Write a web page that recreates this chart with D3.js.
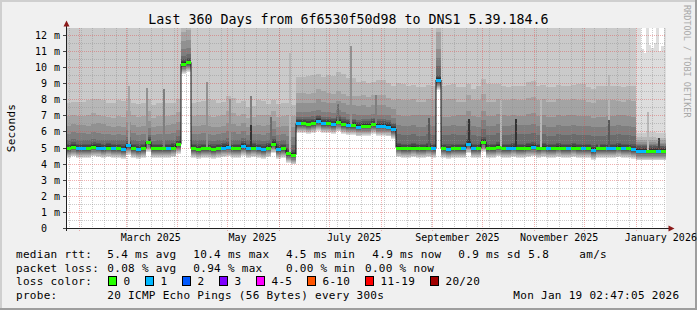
<!DOCTYPE html>
<html>
<head>
<meta charset="utf-8">
<title>Smokeping 360 days</title>
<script src="https://cdn.jsdelivr.net/npm/d3@7"></script>
<style>
body { margin: 0; background: #f0f0f0; }
text { font-family: "DejaVu Sans Mono", monospace; fill: #000; }
</style>
</head>
<body>
<script>
var DAY = 864e5;
var endTime = new Date(2026, 0, 19, 2, 47, 5);
var startTime = new Date(+endTime - 360 * DAY);

// median rtt (ms), one value per 3 days
var median = [
  4.95, 5.05, 4.95, 4.95, 4.95, 5.05, 5.0, 4.95, 5.0, 4.95,
  4.95, 4.9, 5.15, 4.95, 4.9, 4.95, 5.35, 4.95, 4.95, 4.95,
  4.95, 5.0, 5.2, 10.2, 10.3,
  4.95, 4.9, 4.95, 4.95, 4.9, 4.95, 5.0, 5.05, 4.95, 4.95,
  5.1, 4.95, 5.0, 4.95, 4.9, 5.0, 5.25, 4.9, 4.95, 4.65, 4.55,
  6.5, 6.5, 6.45, 6.5, 6.65, 6.5, 6.5, 6.45, 6.6, 6.45,
  6.4, 6.4, 6.3, 6.35, 6.35, 6.45, 6.35, 6.35, 6.3, 6.15,
  5.0, 4.95, 4.95, 5.0, 4.95, 4.95, 5.0, 4.95, 9.2, 4.95,
  4.9, 4.95, 4.95, 4.95, 5.25, 4.95, 4.95, 5.35, 4.95, 4.95,
  5.05, 4.95, 4.95, 5.0, 4.95, 4.95, 5.0, 5.05, 4.95, 5.0,
  4.95, 4.95, 5.0, 4.95, 4.95, 5.0, 4.95, 4.95, 4.95, 4.85,
  4.95, 4.95, 4.95, 4.95, 5.0, 4.95, 4.95, 4.9,
  4.8, 4.8, 4.8, 4.8, 4.8, 4.8
];
// lost pings out of 20, same bins
var loss = [
  0,0,1,1,0,0,1,1,0,1, 0,1,1,0,1,0,0,0,0,0, 1,0,0, 0,0,
  0,0,0,0,0,0,1,1,0,0, 1,1,0,1,1,0,0,1,0,0,0,
  1,0,0,0,1,1,0,1,0,0, 1,0,1,0,0,0,1,1,1,1,
  0,0,0,0,0,0,0,1,1,0, 1,0,0,1,1,1,0,0,0,0, 0,0,1,1,0,0,0,1,0,0,
  1,0,0,0,1,0,0,1,0,1, 0,0,1,1,0,1,0,1,
  1,1,0,0,1,0
];

// smoke: how far each ping band reaches above the median (ms), one value per 6 days
var up2 = [
  9,9,9,9,9,9,9,9,9,9, 9,9,9,9,9,9,9,9,9,9,
  9,9,9,9,9,9,9,9,9,9, 9,9,9,9,9,9,9,9,9,9,
  9,9,9,9,9,9,9,9,9,9, 9,9,9,9,9,9,9, 1.1,1.15,1.1
];
var up3 = [
  2.8,2.9,3.0,3.0,2.8,3.0,2.85,2.8,2.7,2.85,2.8,2.8,
  2.8,2.95,3.05,2.85,3.15,2.8,2.6,3.0,2.7,2.8, 3.1,
  2.9,3.0,2.9,3.0,3.1,2.9,2.8,2.65,2.85,2.7,
  4.0,3.9,3.8,3.9,3.9,4.0,3.8,3.7,3.9,4.0,3.9,3.8,
  3.9,4.1,3.9,3.8,3.9,3.9,4.0,3.8,3.9,3.9,3.8,3.9,
  0.85,0.85,0.8
];
var up4 = [
  2.0,2.0,2.1,2.0,1.9,2.0,2.1,2.0,1.9,2.0,2.0,2.0,
  2.0,2.1,2.0,2.0,2.2,2.0,1.9,2.1,2.0,2.0, 2.4,
  1.9,1.9,2.0,1.9,1.9,1.8,1.9,1.8,1.9,1.8,
  3.0,3.0,2.9,3.0,3.0,3.1,2.9,3.0,3.0,2.9,3.0,3.0,
  3.0,3.1,3.0,2.9,3.0,3.0,3.0,2.9,3.0,3.0,2.9,3.0,
  0.7,0.7,0.65
];
var up5 = [
  1.4,1.45,1.4,1.5,1.35,1.4,1.45,1.4,1.3,1.4,1.45,1.4,
  1.4,1.45,1.4,1.35,1.5,1.4,1.35,1.45,1.4,1.4, 1.7,
  1.3,1.3,1.35,1.3,1.3,1.25,1.3,1.2,1.3,1.25,
  2.0,2.0,2.05,2.0,1.95,2.0,2.1,2.0,1.95,2.0,2.05,2.0,
  2.0,2.1,2.0,1.95,2.0,2.05,2.0,2.0,1.95,2.0,2.05,2.0,
  0.55,0.55,0.5
];
var up6 = [
  0.9,0.95,0.9,0.9,0.85,0.9,0.95,0.9,0.85,0.9,0.9,0.9,
  0.9,0.95,0.9,0.9,1.0,0.9,0.85,0.9,0.9,0.9, 1.1,
  0.7,0.75,0.7,0.7,0.75,0.7,0.7,0.65,0.7,0.7,
  1.4,1.4,1.35,1.4,1.4,1.45,1.4,1.4,1.35,1.4,1.4,1.4,
  1.45,1.4,1.4,1.35,1.4,1.4,1.4,1.4,1.35,1.4,1.4,1.4,
  0.45,0.45,0.4
];
var up7 = [
  0.5,0.55,0.5,0.5,0.5,0.55,0.5,0.5,0.45,0.5,0.5,0.5,
  0.5,0.55,0.5,0.5,0.55,0.5,0.5,0.5,0.5,0.5, 0.6,
  0.4,0.45,0.4,0.4,0.45,0.4,0.4,0.4,0.4,0.4,
  0.85,0.85,0.8,0.85,0.85,0.9,0.85,0.85,0.8,0.85,0.85,0.85,
  0.9,0.85,0.85,0.8,0.85,0.85,0.85,0.85,0.8,0.85,0.85,0.85,
  0.35,0.35,0.3
];
var innerUp = [0.3, 0.2, 0.1];                                    // bands 8..10
var lowOff = [0.6, 0.55, 0.5, 0.42, 0.36, 0.3, 0.22, 0.16, 0.1, 0.05]; // bands 1..10 below median
// outermost band top in the last 18 days (ms), 1.5 day steps
var tailTop = [12.5, 12.5, 11.1, 10.9, 12.5, 11.4, 11.2, 11.5, 12.5, 11.0, 11.3, 12.5];

// single outliers: [time, top (ms), band]
var spikes = [
  ["2025-03-02T12:00", 8.8, 4], ["2025-03-13T00:00", 8.7, 5], ["2025-03-23T12:00", 8.65, 6],
  ["2025-04-18T00:00", 9.1, 5], ["2025-05-02T00:00", 8.0, 5], ["2025-05-14T12:00", 8.2, 6],
  ["2025-05-14T12:00", 6.4, 10], ["2025-05-26T12:00", 6.9, 7], ["2025-06-07T00:00", 10.9, 3],
  ["2025-07-06T00:00", 7.7, 7], ["2025-07-13T12:00", 11.3, 5], ["2025-07-28T12:00", 8.3, 6],
  ["2025-08-29T12:00", 6.85, 8], ["2025-09-22T12:00", 6.8, 10], ["2025-10-11T12:00", 8.6, 3],
  ["2025-10-20T12:00", 6.8, 10], ["2025-11-04T12:00", 8.9, 3], ["2025-12-09T12:00", 5.6, 7],
  ["2025-12-15T12:00", 9.5, 3], ["2025-12-15T12:00", 6.7, 8], ["2026-01-08T00:00", 7.2, 3],
  ["2026-01-14T12:00", 5.6, 9]
];

var smokeColors = ["#dddddd","#cacaca","#b7b7b7","#a4a4a4","#919191","#7e7e7e","#6b6b6b","#585858","#454545","#323232"];
var lossLabels = ["0", "1", "2", "3", "4-5", "6-10", "11-19", "20/20"];
var lossColors = ["#26ff00", "#00b8ff", "#0059ff", "#7e00ff", "#ff00ff", "#ff5500", "#ff0000", "#a10000"];
var monthLabels = ["March 2025", "May 2025", "July 2025", "September 2025", "November 2025", "January 2026"];
var legendRtt = ["median rtt:", "5.4 ms avg", "10.4 ms max", "4.5 ms min", "4.9 ms now", "0.9 ms sd", "5.8", "am/s"];
var legendLoss = ["packet loss:", "0.08 % avg", "0.94 % max", "0.00 % min", "0.00 % now"];
var probeText = ["probe:", "20 ICMP Echo Pings (56 Bytes) every 300s", "Mon Jan 19 02:47:05 2026"];

var BIN = 3 * DAY;
function binTime(i) { return new Date(+startTime + i * BIN); }
function medianAt(t) { return median[Math.min(median.length - 1, Math.floor((t - startTime) / BIN))]; }

var x = d3.scaleTime().domain([startTime, endTime]).range([66, 666]);
var y = d3.scaleLinear().domain([0, 12.435]).range([228, 28]);

var svg = d3.select("body").append("svg").attr("width", 697).attr("height", 310).style("display", "block");
svg.append("rect").attr("width", 697).attr("height", 310).attr("fill", "#f0f0f0");
svg.append("rect").attr("width", 697).attr("height", 2).attr("fill", "#cfcfcf");
svg.append("rect").attr("width", 2).attr("height", 310).attr("fill", "#cfcfcf");
svg.append("rect").attr("y", 308).attr("width", 697).attr("height", 2).attr("fill", "#9e9e9e");
svg.append("rect").attr("x", 695).attr("width", 2).attr("height", 310).attr("fill", "#9e9e9e");

svg.append("defs").append("clipPath").attr("id", "plotclip")
  .append("rect").attr("x", 66).attr("y", 28).attr("width", 600).attr("height", 200);
svg.append("rect").attr("x", 66).attr("y", 28).attr("width", 600).attr("height", 200).attr("fill", "#fff");

var smoke = svg.append("g").attr("clip-path", "url(#plotclip)");

// smoke bands
var area = d3.area().curve(d3.curveStepAfter)
  .x(function(d) { return x(d.t); })
  .y0(function(d) { return y(d.lo); })
  .y1(function(d) { return y(d.hi); });

function bandUp(L, i) {
  var k = Math.floor(i / 2);
  if (L == 2) return up2[k];
  if (L <= 7) return [up3, up4, up5, up6, up7][L - 3][k];
  return innerUp[L - 8];
}

for (var L = 1; L <= 10; L++) {
  var pts = [];
  if (L == 1) {
    for (var i = 0; i < 114; i++) pts.push({t: binTime(i), lo: median[i] - lowOff[0], hi: 13});
    var tailStart = binTime(114);
    for (var j = 0; j < tailTop.length; j++) {
      var tt = new Date(+tailStart + j * 1.5 * DAY);
      pts.push({t: tt, lo: medianAt(tt) - lowOff[0], hi: tailTop[j]});
    }
  } else {
    for (var i = 0; i < median.length; i++)
      pts.push({t: binTime(i), lo: median[i] - lowOff[L - 1], hi: median[i] + bandUp(L, i)});
  }
  var last = pts[pts.length - 1];
  pts.push({t: endTime, lo: last.lo, hi: last.hi});
  smoke.append("path").datum(pts).attr("d", area)
    .attr("fill", smokeColors[L - 1]).attr("shape-rendering", "crispEdges");
}

// spikes
var parseT = d3.timeParse("%Y-%m-%dT%H:%M");
smoke.selectAll("rect.spike").data(spikes).enter().append("rect").attr("class", "spike")
  .attr("x", function(d) { return Math.round(x(parseT(d[0]))); })
  .attr("width", 2)
  .attr("y", function(d) { return y(d[1]); })
  .attr("height", function(d) { return y(medianAt(parseT(d[0]))) - y(d[1]); })
  .attr("fill", function(d) { return smokeColors[d[2] - 1]; })
  .attr("shape-rendering", "crispEdges");

// grid (drawn over the smoke, like rrdtool)
var MINOR = "rgba(143,143,143,0.45)", MAJOR = "rgba(222,79,79,0.45)";
var grid = svg.append("g").attr("shape-rendering", "crispEdges");
d3.range(0.5, 12.4, 0.5).forEach(function(v) {
  var yy = Math.round(y(v)) + 0.5;
  grid.append("line").attr("x1", 66).attr("x2", 666).attr("y1", yy).attr("y2", yy)
    .attr("stroke", v % 1 == 0 ? MAJOR : MINOR).attr("stroke-dasharray", "1,1");
});
var weeks = d3.timeSunday.range(startTime, endTime);
var months = d3.timeMonth.range(startTime, endTime);
weeks.forEach(function(t) {
  var xx = Math.round(x(t)) + 0.5;
  grid.append("line").attr("x1", xx).attr("x2", xx).attr("y1", 28).attr("y2", 230)
    .attr("stroke", MINOR).attr("stroke-dasharray", "1,1");
});
months.forEach(function(t) {
  var xx = Math.round(x(t)) + 0.5;
  grid.append("line").attr("x1", xx).attr("x2", xx).attr("y1", 28).attr("y2", 231)
    .attr("stroke", MAJOR).attr("stroke-dasharray", "1,1");
});

// median line: dark connectors then loss-coloured steps, on top of everything
var med = svg.append("g").attr("clip-path", "url(#plotclip)");
var stepPts = median.map(function(v, i) { return [x(binTime(i)), y(v)]; });
stepPts.push([x(endTime), y(median[median.length - 1])]);
med.append("path").attr("d", d3.line().curve(d3.curveStepAfter)(stepPts))
  .attr("fill", "none").attr("stroke", "#111").attr("stroke-width", 1);
med.selectAll("line.med").data(median).enter().append("line").attr("class", "med")
  .attr("x1", function(d, i) { return x(binTime(i)); })
  .attr("x2", function(d, i) { return i == median.length - 1 ? x(endTime) : x(binTime(i + 1)); })
  .attr("y1", function(d) { return Math.round(y(d)) + 0.5; })
  .attr("y2", function(d) { return Math.round(y(d)) + 0.5; })
  .attr("stroke", function(d, i) { return lossColors[loss[i]]; })
  .attr("stroke-width", 3);

// axes
var ax = svg.append("g").attr("shape-rendering", "crispEdges");
ax.append("line").attr("x1", 63).attr("x2", 670).attr("y1", 228.5).attr("y2", 228.5).attr("stroke", "#202020");
ax.append("line").attr("x1", 66.5).attr("x2", 66.5).attr("y1", 231).attr("y2", 24).attr("stroke", "#202020");
svg.append("path").attr("d", "M63.5,26.5 L66.5,20.5 L69.5,26.5 Z").attr("fill", "#8b1a1a");
svg.append("path").attr("d", "M668.5,225.5 L674.5,228.5 L668.5,231.5 Z").attr("fill", "#8b1a1a");

d3.range(0, 13).forEach(function(v) {
  var yy = Math.round(y(v)) + 0.5;
  ax.append("line").attr("x1", 63).attr("x2", 66).attr("y1", yy).attr("y2", yy).attr("stroke", "#444");
  svg.append("text").attr("x", 47).attr("y", yy + 3.5).attr("text-anchor", "end")
    .attr("font-size", "10px").text(v);
  if (v > 0) svg.append("text").attr("x", 54).attr("y", yy + 3.5).attr("font-size", "10px").text("m");
});

months.filter(function(t) { return t.getMonth() % 2 == 0; }).forEach(function(t, i) {
  var mid = new Date(t.getFullYear(), t.getMonth(), 16);
  svg.append("text").attr("x", x(mid)).attr("y", 241).attr("text-anchor", "middle")
    .attr("font-size", "10px").text(monthLabels[i]);
});

// titles
svg.append("text").attr("x", 348.5).attr("y", 24).attr("text-anchor", "middle")
  .attr("font-size", "13.3px").text("Last 360 Days from 6f6530f50d98 to DNS1 5.39.184.6");
svg.append("text").attr("transform", "translate(15,128) rotate(-90)").attr("text-anchor", "middle")
  .attr("font-size", "11px").attr("letter-spacing", "0.3px").text("Seconds");
svg.append("text").attr("transform", "translate(684,5) rotate(90)")
  .attr("font-size", "8.5px").style("fill", "#a8a8a8").text("RRDTOOL / TOBI OETIKER");

// legend
var leg = svg.append("g").attr("font-size", "11px").attr("letter-spacing", "0.3px");
[16, 107.3, 193.3, 286, 372.3, 458.3, 528.3, 579.3].forEach(function(xx, i) {
  leg.append("text").attr("x", xx).attr("y", 258).text(legendRtt[i]);
});
[16, 107.3, 193.3, 286, 365].forEach(function(xx, i) {
  leg.append("text").attr("x", xx).attr("y", 271.5).text(legendLoss[i]);
});
leg.append("text").attr("x", 16).attr("y", 285).text("loss color:");
[108.5, 145.5, 182.5, 219.5, 256.5, 307.5, 365.5, 430.5].forEach(function(xx, i) {
  leg.append("rect").attr("x", xx).attr("y", 276.5).attr("width", 8).attr("height", 9)
    .attr("fill", lossColors[i]).attr("stroke", "#000").attr("shape-rendering", "crispEdges");
  leg.append("text").attr("x", xx + 15).attr("y", 285).text(lossLabels[i]);
});
[16, 107.3, 513.3].forEach(function(xx, i) {
  leg.append("text").attr("x", xx).attr("y", 299).text(probeText[i]);
});
</script>
</body>
</html>
